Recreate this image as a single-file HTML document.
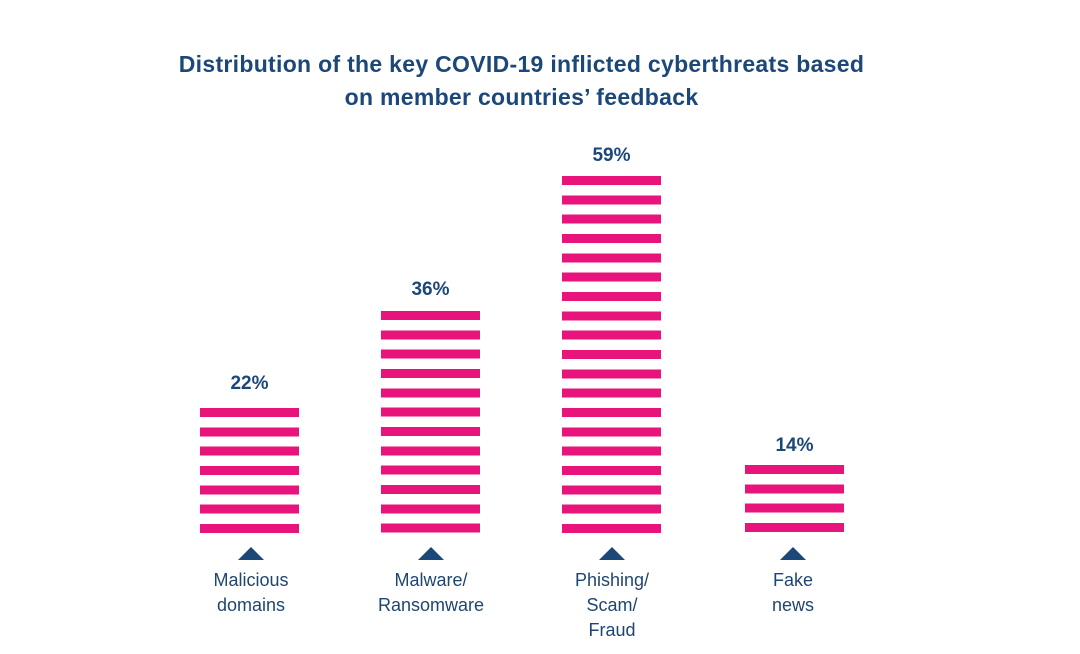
<!DOCTYPE html>
<html><head><style>
body{margin:0;width:1080px;height:654px;background:#fff;position:relative;font-family:"Liberation Sans",sans-serif;overflow:hidden}
.t{position:absolute;left:0;width:1043px;text-align:center;color:#1b4779;font-weight:bold;font-size:23px;letter-spacing:0.3px}
.bar{position:absolute;width:99px;background:repeating-linear-gradient(to bottom,#e8137b 0 9px,transparent 9px 19.33px)}
.v{position:absolute;width:99px;text-align:center;color:#1b4779;font-weight:bold;font-size:19px}
.tri{position:absolute;width:0;height:0;border-left:13px solid transparent;border-right:13px solid transparent;border-bottom:13px solid #1b4779}
.l{position:absolute;width:160px;text-align:center;color:#1f4571;font-size:18px;line-height:25px}
</style></head><body>
<div class="t" style="top:51px">Distribution of the key COVID-19 inflicted cyberthreats based</div>
<div class="t" style="top:84px">on member countries’ feedback</div>

<div class="v" style="left:200px;top:373px">22%</div>
<div class="bar" style="left:200px;top:408px;height:125px"></div>
<div class="v" style="left:381px;top:279px">36%</div>
<div class="bar" style="left:381px;top:311px;height:222px"></div>
<div class="v" style="left:562px;top:145px">59%</div>
<div class="bar" style="left:562px;top:176px;height:357px"></div>
<div class="v" style="left:745px;top:435px">14%</div>
<div class="bar" style="left:745px;top:465px;height:68px"></div>

<div class="tri" style="left:238px;top:547px"></div>
<div class="tri" style="left:418px;top:547px"></div>
<div class="tri" style="left:599px;top:547px"></div>
<div class="tri" style="left:780px;top:547px"></div>

<div class="l" style="left:171px;top:568px">Malicious<br>domains</div>
<div class="l" style="left:351px;top:568px">Malware/<br>Ransomware</div>
<div class="l" style="left:532px;top:568px">Phishing/<br>Scam/<br>Fraud</div>
<div class="l" style="left:713px;top:568px">Fake<br>news</div>
</body></html>
